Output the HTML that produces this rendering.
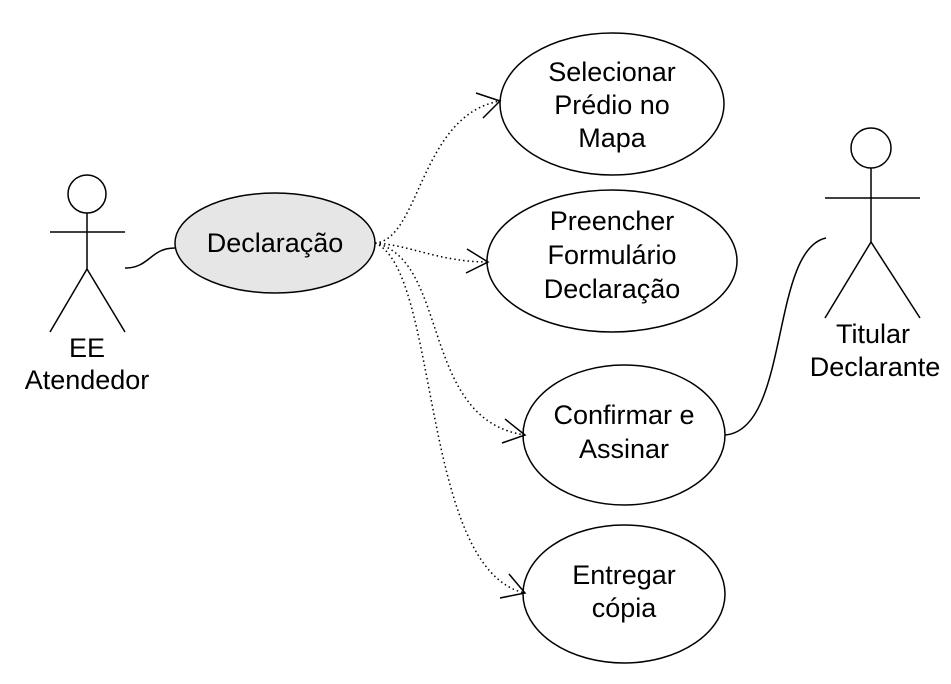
<!DOCTYPE html>
<html><head><meta charset="utf-8"><style>
html,body{margin:0;padding:0;background:#fff;}
svg{display:block;}
text{font-family:"Liberation Sans",sans-serif;font-size:27px;fill:#000;text-anchor:middle;}
</style></head><body>
<svg width="951" height="684" viewBox="0 0 951 684" xmlns="http://www.w3.org/2000/svg">
<g fill="none" stroke="#000" stroke-width="1.5">
<circle cx="87" cy="194" r="19"/>
<line x1="87" y1="213" x2="87" y2="269"/>
<line x1="50" y1="232" x2="125" y2="232"/>
<line x1="87" y1="269" x2="50" y2="332"/>
<line x1="87" y1="269" x2="125" y2="332"/>
<circle cx="871" cy="148" r="20"/>
<line x1="871" y1="168" x2="871" y2="242"/>
<line x1="825" y1="198" x2="920" y2="198"/>
<line x1="871" y1="242" x2="825" y2="318"/>
<line x1="871" y1="242" x2="920" y2="318"/>
<ellipse cx="275" cy="243" rx="100" ry="50" fill="#e6e6e6"/>
<ellipse cx="612" cy="104" rx="112" ry="71"/>
<ellipse cx="612" cy="261" rx="125" ry="71"/>
<ellipse cx="624" cy="435" rx="101" ry="70"/>
<ellipse cx="624" cy="594" rx="101" ry="69"/>
<path d="M125 268 C150 268 150 248 175 248"/>
<path d="M826 238 C770 250 790 430 725 435"/>
<g stroke-dasharray="1.5 3">
<path d="M375 243 C420 240 420 115 500 101"/>
<path d="M375 243 C410 245 440 262 488 262"/>
<path d="M375 243 C450 260 420 420 525 435"/>
<path d="M375 243 C440 270 420 570 525 593"/>
</g>
<path d="M476 93 L500 101 L483 118"/>
<path d="M467 249 L488 262 L466 273"/>
<path d="M505 419 L525 435 L502 443"/>
<path d="M509 574 L525 593 L500 598"/>
</g>
<text x="275" y="252">Declaração</text>
<text x="612" y="81">Selecionar</text>
<text x="612" y="114">Prédio no</text>
<text x="612" y="147">Mapa</text>
<text x="612" y="230">Preencher</text>
<text x="612" y="264">Formulário</text>
<text x="612" y="298">Declaração</text>
<text x="624" y="424">Confirmar e</text>
<text x="624" y="458">Assinar</text>
<text x="624" y="584">Entregar</text>
<text x="624" y="617">cópia</text>
<text x="87" y="357">EE</text>
<text x="87" y="389">Atendedor</text>
<text x="873" y="343">Titular</text>
<text x="875" y="376">Declarante</text>
</svg>
</body></html>
